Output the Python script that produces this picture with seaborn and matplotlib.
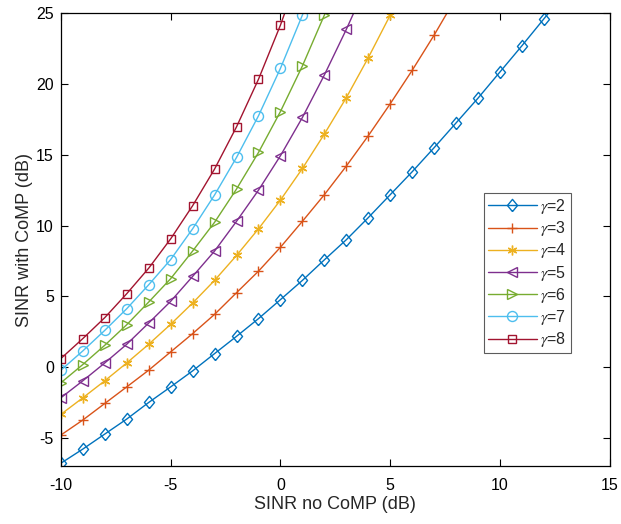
import matplotlib
matplotlib.use("Agg")
import matplotlib.pyplot as plt
import seaborn as sns
import pandas as pd

sns.set_theme(style="white")
plt.rcParams['font.family'] = ['Liberation Sans', 'DejaVu Sans']
plt.rcParams['mathtext.fontset'] = 'stix'
plt.rcParams['axes.unicode_minus'] = False

gammas = [2, 3, 4, 5, 6, 7, 8]
x_g2 = list(range(-10, 14))
y_g2 = [-6.78, -5.78, -4.72, -3.66, -2.49, -1.39, -0.26, 0.96, 2.18, 3.43, 4.77, 6.13,
        7.58, 9.0, 10.56, 12.18, 13.8, 15.5, 17.25, 19.0, 20.85, 22.7, 24.6, 26.5]
x_g3 = list(range(-10, 9))
y_g3 = [-4.79, -3.73, -2.56, -1.39, -0.21, 1.08, 2.37, 3.73, 5.26, 6.78, 8.47, 10.3,
        12.18, 14.2, 16.34, 18.6, 20.96, 23.45, 26.1]
x_g4 = list(range(-10, 7))
y_g4 = [-3.33, -2.16, -0.96, 0.30, 1.62, 3.03, 4.53, 6.13, 7.89, 9.77, 11.8, 14.03,
        16.46, 19.03, 21.85, 24.86, 28.0]
x_g5 = list(range(-10, 5))
y_g5 = [-2.16, -0.96, 0.30, 1.62, 3.12, 4.65, 6.41, 8.2, 10.3, 12.5, 14.93, 17.63,
        20.63, 23.85, 27.3]
x_g6 = list(range(-10, 4))
y_g6 = [-1.1, 0.19, 1.55, 3.0, 4.6, 6.25, 8.2, 10.23, 12.58, 15.16, 18.05, 21.27,
        24.86, 28.6]
x_g7 = list(range(-10, 3))
y_g7 = [-0.21, 1.15, 2.6, 4.13, 5.82, 7.6, 9.77, 12.16, 14.81, 17.75, 21.1, 24.86, 28.7]
x_g8 = list(range(-10, 2))
y_g8 = [0.61, 2.02, 3.5, 5.19, 6.99, 9.06, 11.4, 13.99, 16.97, 20.33, 24.15, 28.5]

xs = [x_g2, x_g3, x_g4, x_g5, x_g6, x_g7, x_g8]
ys = [y_g2, y_g3, y_g4, y_g5, y_g6, y_g7, y_g8]
labels = [r"$\gamma$=%d" % g for g in gammas]

colors = ["#0072BD", "#D95319", "#EDB120", "#7E2F8E", "#77AC30", "#4DBEEE", "#A2142F"]
diamond = [(0, -1.15), (0.95, 0), (0, 1.15), (-0.95, 0), (0, -1.15)]
markers = [diamond, "+", (6, 2, 0), "<", ">", "o", "s"]
msizes = [8.8, 7.2, 7.0, 7.6, 7.6, 7.2, 5.8]

fig = plt.figure(figsize=(6.21, 5.24), dpi=100)
ax = fig.add_axes([0.098, 0.110, 0.884, 0.865])

for x, y, lab, c, m, ms in zip(xs, ys, labels, colors, markers, msizes):
    df = pd.DataFrame({"x": x, "y": y})
    sns.lineplot(data=df, x="x", y="y", ax=ax, color=c, marker=m, markersize=ms,
                 markerfacecolor="none", markeredgecolor=c, markeredgewidth=1.0,
                 linewidth=1.0, label=lab, sort=False)

ax.set_xlim(-10, 15)
ax.set_ylim(-7, 25)
ax.set_xticks([-10, -5, 0, 5, 10, 15])
ax.set_yticks([-5, 0, 5, 10, 15, 20, 25])
ax.set_xlabel("SINR no CoMP (dB)", fontsize=13, labelpad=2)
ax.set_ylabel("SINR with CoMP (dB)", fontsize=13, labelpad=2)
ax.tick_params(axis="both", direction="in", length=5, width=0.8, labelsize=11.5,
               top=True, right=True, bottom=True, left=True, colors="black")
ax.tick_params(axis="x", pad=8.5)
ax.tick_params(axis="y", pad=5)
for s in ax.spines.values():
    s.set_visible(True)
    s.set_color("black")
    s.set_linewidth(0.9)

leg = ax.legend(loc="upper left", bbox_to_anchor=(0.77, 0.603), fontsize=11.5,
                frameon=True, fancybox=False, edgecolor="#333333", handlelength=3.1,
                handletextpad=0.2, borderpad=0.25, labelspacing=0.2, borderaxespad=0)
leg.get_frame().set_linewidth(0.8)

fig.savefig("out.png", dpi=100)
